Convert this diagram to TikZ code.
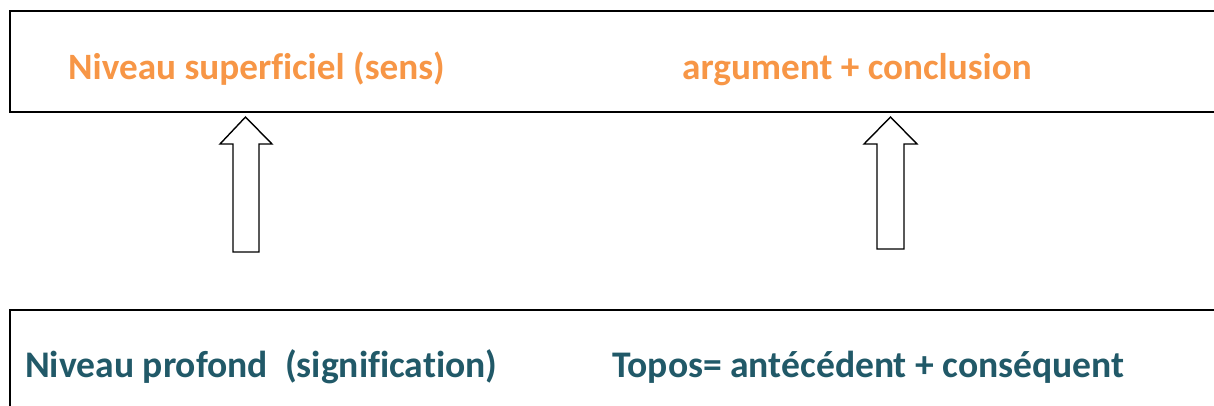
\documentclass[tikz,border=0pt]{standalone}
\usepackage{fontspec}
\setmainfont{Carlito}[Ligatures=NoCommon]
\definecolor{orng}{HTML}{F79646}
\definecolor{teal2}{HTML}{215968}
\begin{document}
\begin{tikzpicture}[x=1pt,y=-1pt,
  box/.style={draw=black,line width=2.8pt},
  blockarrow/.style={draw=black,line width=1.4pt,fill=white,line join=miter},
  toptext/.style={text=orng,font=\bfseries\fontsize{37.2}{44}\selectfont,anchor=base west,inner sep=0pt},
  bottext/.style={text=teal2,font=\bfseries\fontsize{37.6}{45}\selectfont,anchor=base west,inner sep=0pt}]
\useasboundingbox (0,0) rectangle (1214,405);
\draw[box] (1230,11) -- (10,11) -- (10,112) -- (1230,112);
\draw[box] (1230,310) -- (10,310) -- (10,420);
\node[toptext] (ns) at (68,79) {Niveau superficiel (sens)};
\node[toptext] (ac) at (682,79) {argument + conclusion};
\node[bottext] (np) at (25,377) {Niveau profond\ \ (signification)};
\node[bottext] (tp) at (612,377) {Topos= antécédent + conséquent};
\draw[blockarrow] (233,252) -- (233,144) -- (220,144) -- (245.5,117) -- (272,144) -- (259,144) -- (259,252) -- cycle;
\draw[blockarrow] (877,249) -- (877,144) -- (864,144) -- (890.5,117) -- (917,144) -- (904,144) -- (904,249) -- cycle;
\end{tikzpicture}
\end{document}
